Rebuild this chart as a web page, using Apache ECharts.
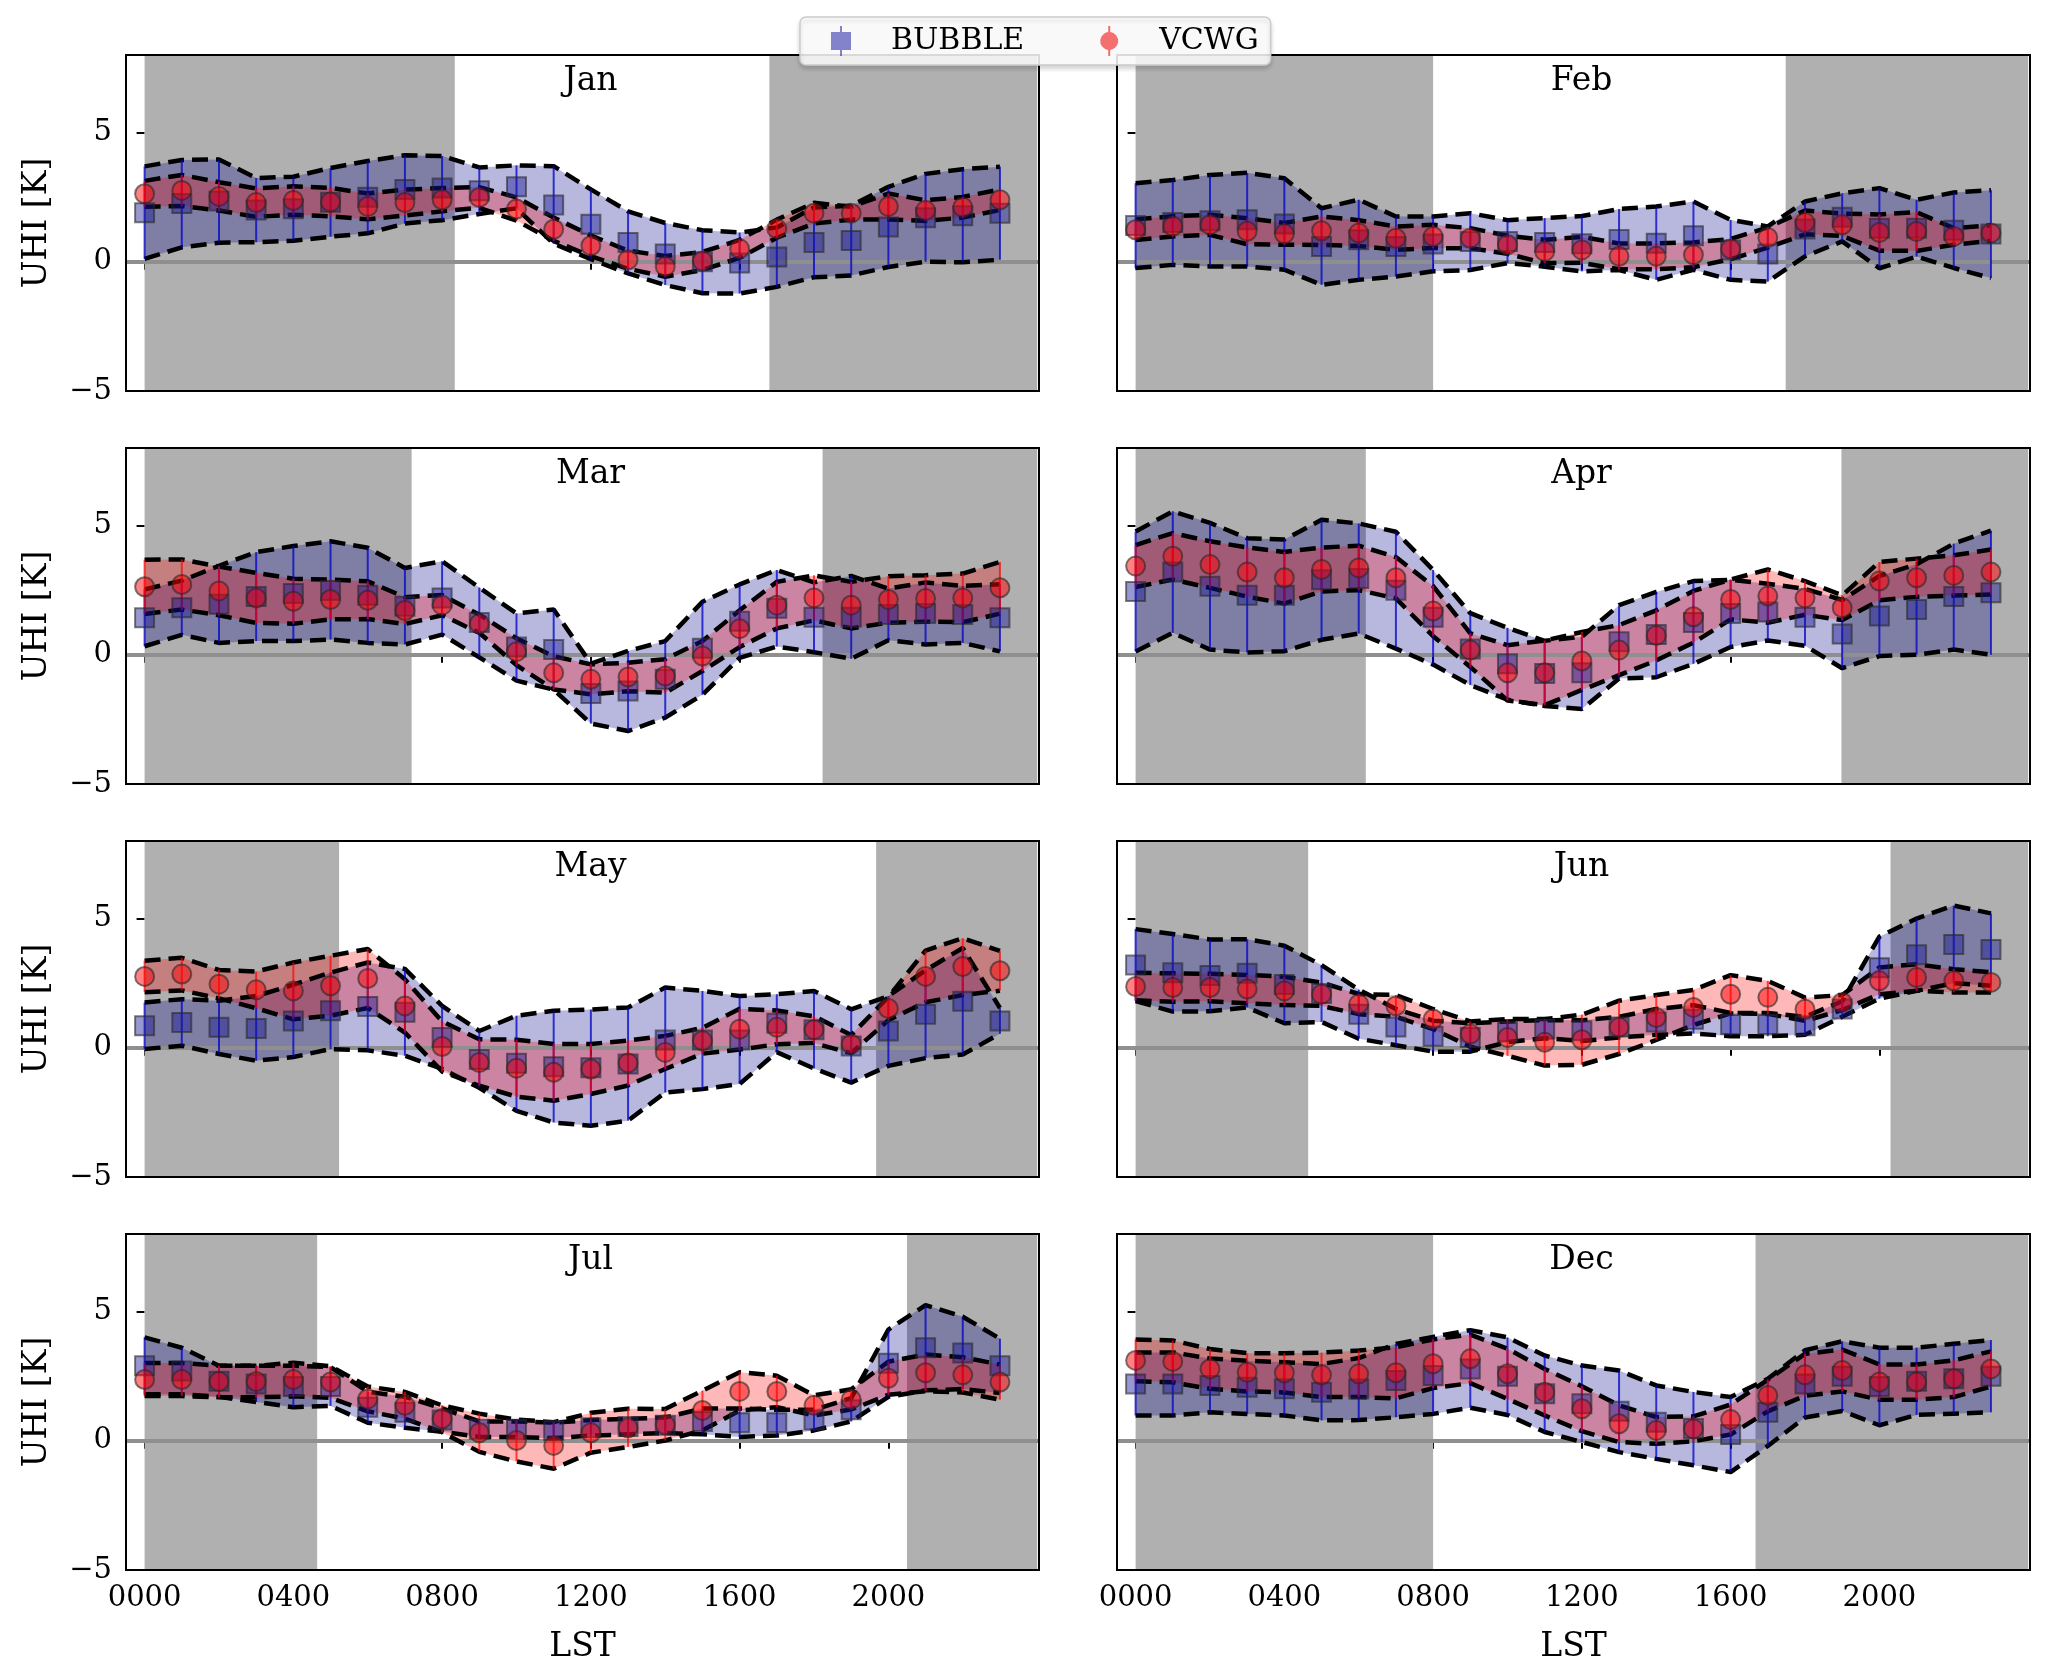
<!DOCTYPE html>
<html><head><meta charset="utf-8">
<script src="https://cdn.jsdelivr.net/npm/echarts@6/dist/echarts.min.js"></script>
<style>html,body{margin:0;padding:0;background:#fff}#chart{width:2067px;height:1675px}</style>
</head><body><div id="chart"></div>
<script>
const HOURS = [0,1,2,3,4,5,6,7,8,9,10,11,12,13,14,15,16,17,18,19,20,21,22,23];
const MONTHS = ['Jan','Feb','Mar','Apr','May','Jun','Jul','Dec'];
const X_TICK_VALUES = [0,4,8,12,16,20];
const X_TICK_LABELS = ['0000','0400','0800','1200','1600','2000'];
const Y_TICK_VALUES = [-5,0,5];
const Y_TICK_LABELS = ['\u22125','0','5'];
const NIGHT_END   = [8.34, 8.0, 7.18, 6.19, 5.23, 4.64, 4.64, 8.0];
const NIGHT_START = [16.8, 17.48, 18.23, 18.98, 19.67, 20.3, 20.5, 16.67];

const JAN_VCWG_MEAN = [2.63,2.76,2.53,2.29,2.37,2.31,2.14,2.29,2.40,2.49,2.04,1.26,0.62,0.08,-0.18,0.03,0.50,1.28,1.88,1.88,2.14,1.98,2.11,2.40];
const JAN_VCWG_STD  = [0.5,0.6,0.55,0.55,0.55,0.55,0.5,0.5,0.45,0.4,0.45,0.45,0.4,0.35,0.4,0.35,0.35,0.35,0.4,0.25,0.5,0.4,0.4,0.4];
const JAN_BUBBLE_MEAN = [1.9,2.25,2.35,2.0,2.05,2.3,2.5,2.8,2.85,2.75,2.9,2.2,1.45,0.75,0.3,0.0,-0.05,0.18,0.75,0.82,1.35,1.7,1.78,1.88];
const JAN_BUBBLE_STD  = [1.79,1.69,1.61,1.24,1.24,1.33,1.4,1.32,1.24,0.9,0.83,1.5,1.35,1.2,1.2,1.22,1.18,1.15,1.35,1.35,1.55,1.7,1.8,1.8];

const FEB_VCWG_MEAN = [1.24,1.37,1.43,1.18,1.08,1.20,1.11,0.91,0.98,0.91,0.66,0.40,0.46,0.21,0.21,0.27,0.49,0.94,1.52,1.43,1.13,1.17,0.98,1.11];
const FEB_VCWG_STD  = [0.40,0.39,0.39,0.5,0.42,0.55,0.5,0.45,0.45,0.39,0.35,0.45,0.5,0.5,0.5,0.48,0.39,0.39,0.46,0.43,0.7,0.75,0.32,0.30];
const FEB_BUBBLE_MEAN = [1.4,1.52,1.59,1.63,1.46,0.59,0.85,0.59,0.69,0.78,0.78,0.75,0.70,0.86,0.72,1.01,0.46,0.30,1.27,1.72,1.30,1.30,1.22,1.07];
const FEB_BUBBLE_STD  = [1.64,1.64,1.77,1.81,1.77,1.48,1.55,1.16,1.06,1.10,0.83,0.94,1.07,1.18,1.42,1.32,1.16,1.07,1.06,0.93,1.55,1.10,1.46,1.70];

const MAR_VCWG_MEAN = [2.63,2.72,2.47,2.20,2.07,2.14,2.11,1.71,1.92,1.20,0.12,-0.70,-0.95,-0.86,-0.82,-0.05,1.01,1.92,2.20,1.92,2.14,2.18,2.20,2.59];
const MAR_VCWG_STD  = [1.05,0.97,0.94,0.97,0.87,0.77,0.73,0.52,0.39,0.35,0.52,0.64,0.58,0.55,0.65,0.58,0.71,0.9,0.87,0.9,0.9,0.9,0.94,1.0];
const MAR_BUBBLE_MEAN = [1.43,1.82,1.95,2.25,2.37,2.49,2.3,1.88,2.2,1.25,0.3,0.2,-1.5,-1.4,-0.95,0.25,1.3,1.8,1.45,1.45,1.56,1.6,1.56,1.43];
const MAR_BUBBLE_STD  = [1.1,1.05,1.49,1.72,1.84,1.9,1.84,1.48,1.42,1.35,1.3,1.55,1.16,1.55,1.48,1.8,1.42,1.48,1.35,1.6,1.0,1.2,1.1,1.3];

const APR_VCWG_MEAN = [3.43,3.81,3.49,3.20,2.98,3.30,3.36,2.98,1.69,0.18,-0.70,-0.70,-0.24,0.18,0.75,1.47,2.14,2.27,2.20,1.82,2.85,2.98,3.07,3.20];
const APR_VCWG_STD  = [0.81,0.9,0.9,0.95,1.0,0.85,0.86,0.8,0.97,0.65,1.07,1.25,1.12,0.97,0.97,1.0,0.77,1.03,0.65,0.48,0.74,0.74,0.78,0.87];
const APR_BUBBLE_MEAN = [2.45,3.2,2.65,2.3,2.3,2.9,2.95,2.5,1.45,0.22,-0.35,-0.72,-0.7,0.5,0.78,1.25,1.6,1.65,1.45,0.8,1.5,1.75,2.25,2.4];
const APR_BUBBLE_STD  = [2.32,2.35,2.45,2.21,2.16,2.32,2.13,2.26,1.83,1.39,1.39,1.26,1.4,1.42,1.65,1.6,1.3,1.1,1.1,1.32,1.55,1.75,2.05,2.4];

const MAY_VCWG_MEAN = [2.76,2.85,2.46,2.24,2.20,2.40,2.68,1.62,0.05,-0.57,-0.79,-0.95,-0.82,-0.59,-0.18,0.27,0.72,0.79,0.70,0.14,1.52,2.76,3.14,2.98];
const MAY_VCWG_STD  = [0.61,0.63,0.55,0.71,1.1,1.16,1.14,1.03,0.97,0.9,1.1,1.1,0.97,0.87,0.64,0.5,0.79,0.65,0.52,0.35,0.45,1.0,1.1,0.77];
const MAY_BUBBLE_MEAN = [0.85,0.98,0.79,0.75,1.04,1.43,1.6,1.37,0.4,-0.45,-0.6,-0.73,-0.77,-0.63,0.3,0.3,0.3,0.95,0.7,0.07,0.65,1.3,1.8,1.04];
const MAY_BUBBLE_STD  = [0.9,0.9,1.03,1.25,1.4,1.48,1.7,1.68,1.22,1.1,1.84,2.16,2.25,2.19,2.03,1.9,1.7,1.12,1.5,1.42,1.35,1.7,2.06,0.5];

const JUN_VCWG_MEAN = [2.37,2.33,2.33,2.27,2.20,2.07,1.69,1.62,1.11,0.53,0.40,0.21,0.31,0.79,1.17,1.56,2.07,1.95,1.49,1.75,2.59,2.72,2.59,2.53];
const JUN_VCWG_STD  = [0.53,0.55,0.53,0.55,0.55,0.45,0.39,0.42,0.39,0.49,0.71,0.9,0.97,1.03,0.87,0.68,0.74,0.64,0.45,0.29,0.52,0.51,0.45,0.39];
const JUN_BUBBLE_MEAN = [3.2,2.9,2.8,2.88,2.45,2.1,1.3,0.8,0.45,0.4,0.62,0.72,0.66,0.8,1.0,1.1,0.9,0.9,0.85,1.5,3.1,3.6,4.0,3.8];
const JUN_BUBBLE_STD  = [1.39,1.5,1.39,1.32,1.5,1.1,0.95,0.7,0.6,0.55,0.4,0.35,0.4,0.4,0.5,0.55,0.45,0.45,0.35,0.3,1.2,1.4,1.5,1.4];

const JUL_VCWG_MEAN = [2.37,2.37,2.29,2.29,2.37,2.27,1.62,1.37,0.85,0.31,0.01,-0.18,0.31,0.50,0.62,1.17,1.91,1.91,1.37,1.60,2.42,2.63,2.55,2.27];
const JUL_VCWG_STD  = [0.64,0.64,0.61,0.61,0.65,0.61,0.48,0.52,0.52,0.74,0.81,0.9,0.77,0.74,0.61,0.77,0.74,0.61,0.39,0.39,0.64,0.71,0.68,0.68];
const JUL_BUBBLE_MEAN = [2.9,2.7,2.3,2.2,2.1,2.1,1.3,1.1,0.8,0.45,0.45,0.4,0.5,0.55,0.6,0.75,0.7,0.7,0.8,1.2,3.0,3.6,3.4,2.9];
const JUL_BUBBLE_STD  = [1.1,0.9,0.6,0.7,0.8,0.75,0.6,0.6,0.45,0.3,0.3,0.3,0.3,0.3,0.3,0.5,0.55,0.5,0.4,0.45,1.3,1.65,1.4,1.05];

const DEC_VCWG_MEAN = [3.11,3.07,2.78,2.65,2.63,2.55,2.59,2.63,2.98,3.17,2.59,1.88,1.24,0.66,0.40,0.46,0.82,1.75,2.55,2.72,2.27,2.27,2.40,2.78];
const DEC_VCWG_STD  = [0.81,0.81,0.77,0.74,0.76,0.86,0.9,0.99,0.94,0.94,0.97,0.9,0.87,0.71,0.52,0.48,0.58,0.61,0.81,0.81,0.68,0.68,0.71,0.68];
const DEC_BUBBLE_MEAN = [2.2,2.2,2.14,2.07,2.01,1.88,2.0,2.33,2.53,2.78,2.5,1.82,1.43,1.14,0.72,0.47,0.24,1.1,2.2,2.5,2.1,2.3,2.4,2.5];
const DEC_BUBBLE_STD  = [1.22,1.22,1.04,1.03,1.03,1.09,1.2,1.42,1.49,1.5,1.5,1.48,1.48,1.58,1.42,1.42,1.45,1.3,1.3,1.35,1.5,1.3,1.35,1.4];

const PANELS = [
  {bm: JAN_BUBBLE_MEAN, bs: JAN_BUBBLE_STD, vm: JAN_VCWG_MEAN, vs: JAN_VCWG_STD},
  {bm: FEB_BUBBLE_MEAN, bs: FEB_BUBBLE_STD, vm: FEB_VCWG_MEAN, vs: FEB_VCWG_STD},
  {bm: MAR_BUBBLE_MEAN, bs: MAR_BUBBLE_STD, vm: MAR_VCWG_MEAN, vs: MAR_VCWG_STD},
  {bm: APR_BUBBLE_MEAN, bs: APR_BUBBLE_STD, vm: APR_VCWG_MEAN, vs: APR_VCWG_STD},
  {bm: MAY_BUBBLE_MEAN, bs: MAY_BUBBLE_STD, vm: MAY_VCWG_MEAN, vs: MAY_VCWG_STD},
  {bm: JUN_BUBBLE_MEAN, bs: JUN_BUBBLE_STD, vm: JUN_VCWG_MEAN, vs: JUN_VCWG_STD},
  {bm: JUL_BUBBLE_MEAN, bs: JUL_BUBBLE_STD, vm: JUL_VCWG_MEAN, vs: JUL_VCWG_STD},
  {bm: DEC_BUBBLE_MEAN, bs: DEC_BUBBLE_STD, vm: DEC_VCWG_MEAN, vs: DEC_VCWG_STD}
];

const FONT = 'DejaVu Serif';
const COL_LEFT = [126, 1117];
const ROW_TOP = [55, 448, 841, 1234];
const GW = 913, GH = 336;

const BLUE_FILL = 'rgba(0,0,139,0.28)';
const RED_FILL = 'rgba(255,0,0,0.28)';
const BLUE_BAR = 'rgba(0,0,200,0.75)';
const RED_BAR = 'rgba(255,0,0,0.7)';
const SQ_FILL = 'rgba(20,20,150,0.55)';
const CI_FILL = 'rgba(255,0,0,0.62)';
const EDGE = 'rgba(40,40,40,0.75)';

const grids = [], xAxes = [], yAxes = [], series = [], graphics = [];

function rows(mean, std) { return HOURS.map((h, k) => [h, mean[k] - std[k], mean[k] + std[k]]); }

function bandSeries(i, mean, std, fill, z) {
  const data = rows(mean, std);
  return {
    type: 'custom', xAxisIndex: i, yAxisIndex: i, z: z, silent: true, clip: true,
    encode: {x: 0, y: [1, 2]}, data: data,
    renderItem: function (params, api) {
      if (params.dataIndex !== 0) return null;
      const pts = [];
      for (let k = 0; k < data.length; k++) pts.push(api.coord([data[k][0], data[k][2]]));
      for (let k = data.length - 1; k >= 0; k--) pts.push(api.coord([data[k][0], data[k][1]]));
      return {type: 'polygon', shape: {points: pts}, style: {fill: fill}};
    }
  };
}
function errSeries(i, mean, std, color, z) {
  return {
    type: 'custom', xAxisIndex: i, yAxisIndex: i, z: z, silent: true, clip: true,
    encode: {x: 0, y: [1, 2]}, data: rows(mean, std),
    renderItem: function (params, api) {
      const p1 = api.coord([api.value(0), api.value(1)]);
      const p2 = api.coord([api.value(0), api.value(2)]);
      return {type: 'line', shape: {x1: p1[0], y1: p1[1], x2: p2[0], y2: p2[1]}, style: {stroke: color, lineWidth: 2}};
    }
  };
}
function dashSeries(i, mean, std, sign, z) {
  return {
    type: 'line', xAxisIndex: i, yAxisIndex: i, z: z, silent: true, symbol: 'none', showSymbol: false,
    data: HOURS.map((h, k) => [h, mean[k] + sign * std[k]]),
    lineStyle: {color: '#000', width: 4.5, type: [16, 8], cap: 'butt'}
  };
}

PANELS.forEach(function (p, i) {
  const row = Math.floor(i / 2), col = i % 2;
  const isBottom = row === 3, isLeft = col === 0;
  grids.push({left: COL_LEFT[col], top: ROW_TOP[row], width: GW, height: GH, show: true, z: 10,
    backgroundColor: 'transparent', borderColor: '#000', borderWidth: 2});
  xAxes.push({
    type: 'value', gridIndex: i, min: -0.5, max: 24.05,
    axisLine: {show: false}, splitLine: {show: false},
    axisTick: {show: true, length: 8, lineStyle: {color: '#000', width: 2}, customValues: X_TICK_VALUES},
    axisLabel: {show: isBottom, customValues: X_TICK_VALUES, margin: 14,
      formatter: function (v) { const k = X_TICK_VALUES.indexOf(v); return k >= 0 ? X_TICK_LABELS[k] : ''; },
      fontFamily: FONT, fontSize: 29, color: '#000'},
    name: isBottom ? 'LST' : '', nameLocation: 'middle', nameGap: 61,
    nameTextStyle: {fontFamily: FONT, fontSize: 33, color: '#000'}
  });
  yAxes.push({
    type: 'value', gridIndex: i, min: -5, max: 8,
    axisLine: {show: false}, splitLine: {show: false},
    axisTick: {show: true, length: 8, lineStyle: {color: '#000', width: 2}, customValues: Y_TICK_VALUES},
    axisLabel: {show: isLeft, customValues: Y_TICK_VALUES, margin: 14,
      formatter: function (v) { const k = Y_TICK_VALUES.indexOf(v); return k >= 0 ? Y_TICK_LABELS[k] : ''; },
      fontFamily: FONT, fontSize: 29, color: '#000'},
    name: isLeft ? 'UHI [K]' : '', nameLocation: 'middle', nameGap: 72, nameRotate: 90,
    nameTextStyle: {fontFamily: FONT, fontSize: 33, color: '#000'}
  });
  series.push({type: 'line', xAxisIndex: i, yAxisIndex: i, z: 1, silent: true, data: [],
    markArea: {silent: true, itemStyle: {color: '#b0b0b0'},
      data: [[{xAxis: 0}, {xAxis: NIGHT_END[i]}], [{xAxis: NIGHT_START[i]}, {xAxis: 24}]]}});
  series.push(bandSeries(i, p.bm, p.bs, BLUE_FILL, 2));
  series.push(bandSeries(i, p.vm, p.vs, RED_FILL, 3));
  series.push({type: 'line', xAxisIndex: i, yAxisIndex: i, z: 4, silent: true, data: [],
    markLine: {silent: true, symbol: ['none', 'none'], label: {show: false},
      lineStyle: {color: '#8f8f8f', width: 4, type: 'solid'}, data: [{yAxis: 0}]}});
  series.push(dashSeries(i, p.bm, p.bs, 1, 5));
  series.push(dashSeries(i, p.bm, p.bs, -1, 5));
  series.push(dashSeries(i, p.vm, p.vs, 1, 5));
  series.push(dashSeries(i, p.vm, p.vs, -1, 5));
  series.push(errSeries(i, p.bm, p.bs, BLUE_BAR, 6));
  series.push(errSeries(i, p.vm, p.vs, RED_BAR, 6));
  series.push({name: 'BUBBLE', type: 'scatter', xAxisIndex: i, yAxisIndex: i, z: 7, silent: true,
    symbol: 'rect', symbolSize: 19, data: HOURS.map((h, k) => [h, p.bm[k]]),
    itemStyle: {color: SQ_FILL, borderColor: EDGE, borderWidth: 2}});
  series.push({name: 'VCWG', type: 'scatter', xAxisIndex: i, yAxisIndex: i, z: 8, silent: true,
    symbol: 'circle', symbolSize: 19, data: HOURS.map((h, k) => [h, p.vm[k]]),
    itemStyle: {color: CI_FILL, borderColor: EDGE, borderWidth: 2}});
  graphics.push({type: 'text', x: COL_LEFT[col] + GW / 2 + 8, y: ROW_TOP[row] + 10, z: 20,
    style: {text: MONTHS[i], font: '33px "DejaVu Serif"', fill: '#000', textAlign: 'center', textVerticalAlign: 'top'}});
});

const chart = echarts.init(document.getElementById('chart'), null, {renderer: 'canvas'});
chart.setOption({
  animation: false,
  backgroundColor: '#fff',
  textStyle: {fontFamily: FONT},
  grid: grids, xAxis: xAxes, yAxis: yAxes, series: series, graphic: graphics,
  legend: {
    top: 17, left: 800, z: 30, selectedMode: false,
    itemWidth: 20, itemHeight: 30, itemGap: 76,
    padding: [9, 12, 9, 31],
    backgroundColor: 'rgba(255,255,255,0.85)', borderColor: '#cccccc', borderWidth: 1.5, borderRadius: 6,
    shadowColor: 'rgba(0,0,0,0.18)', shadowBlur: 4, shadowOffsetY: 3,
    textStyle: {fontFamily: FONT, fontSize: 30, color: '#000', padding: [0, 0, 0, 35]},
    data: [
      {name: 'BUBBLE', icon: 'path://M9,0H11V6H20V24H11V30H9V24H0V6H9Z',
        itemStyle: {color: 'rgba(40,40,170,0.7)', borderWidth: 0}},
      {name: 'VCWG', icon: 'path://M9,0H11V6.06A9,9 0 0 1 11,23.94V30H9V23.94A9,9 0 0 1 9,6.06Z',
        itemStyle: {color: 'rgba(240,20,20,0.75)', borderWidth: 0}}
    ]
  }
});
</script></body></html>
